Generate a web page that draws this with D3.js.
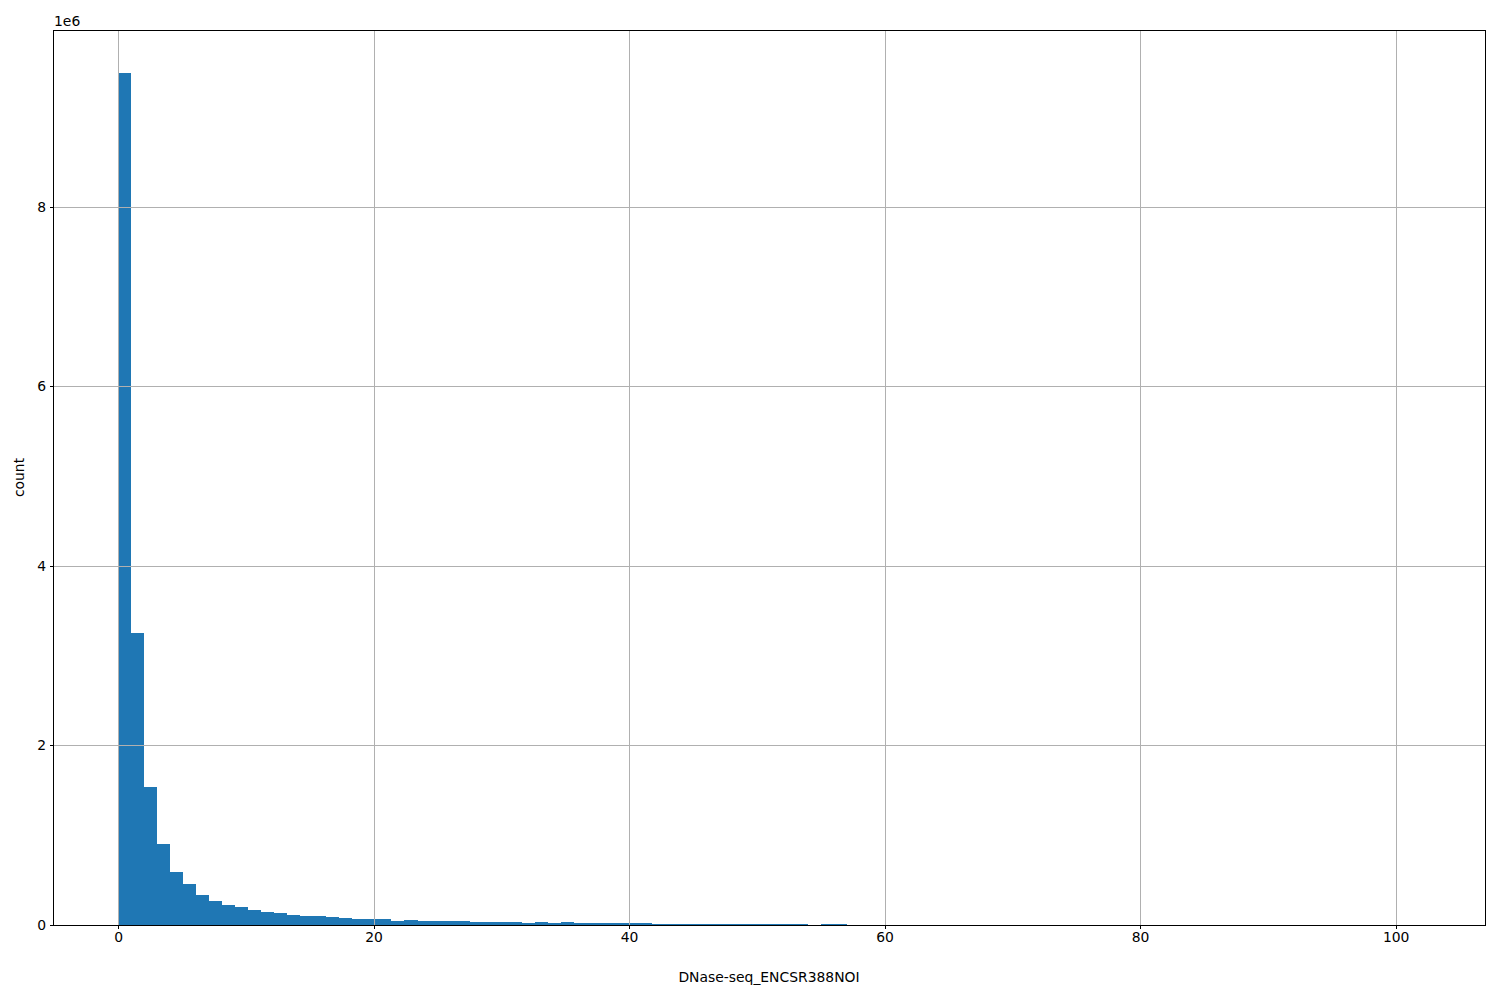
<!DOCTYPE html>
<html>
<head>
<meta charset="utf-8">
<script src="https://cdn.jsdelivr.net/npm/d3@7"></script>
<style>
  html, body { margin: 0; padding: 0; background: #fff; }
  svg { display: block; }
  text { font-family: "DejaVu Sans", sans-serif; }
</style>
</head>
<body>
<svg id="chart" width="1500" height="1000"></svg>
<script>
// Histogram: 100 equal bins over [binStart, binEnd]
const binStart = 0;
const binEnd = 101.9;
// counts per bin
const counts = [
  9497000, 3250000, 1540000, 904000, 588000, 454000, 331000, 264000, 220000, 197000,
  164000, 142000, 130000, 108000, 97000, 97000, 86000, 75000, 64000, 64000,
  64000, 42000, 53000, 45000, 45000, 45000, 45000, 34000, 34000, 34000,
  34000, 23000, 34000, 23000, 34000, 23000, 23000, 23000, 23000, 23000,
  22000, 11000, 11000, 11000, 11000, 11000, 11000, 11000, 11000, 11000,
  11000, 11000, 11000, 3000, 11000, 11000, 2000, 1500, 1200, 1000,
  900, 800, 700, 600, 500, 500, 400, 400, 300, 300,
  300, 250, 200, 200, 200, 150, 150, 150, 100, 100,
  100, 100, 80, 80, 60, 60, 50, 50, 40, 40,
  30, 30, 20, 20, 20, 10, 10, 10, 10, 10
];
const xTicks = [0, 20, 40, 60, 80, 100];
const yTicks = [0, 2000000, 4000000, 6000000, 8000000];
const yTickLabels = ["0", "2", "4", "6", "8"];
const xLabel = "DNase-seq_ENCSR388NOI";
const yLabel = "count";
const yOffsetLabel = "1e6";

const svg = d3.select("#chart");
const L = 53, R = 1485, T = 30, B = 925;
const span = binEnd - binStart;
const x = d3.scaleLinear()
  .domain([binStart - 0.05 * span, binEnd + 0.05 * span])
  .range([L, R]);
const yMax = d3.max(counts) * 1.05;
const y = d3.scaleLinear().domain([0, yMax]).range([B, T]);
const snap = v => Math.round(v) + 0.5;

const binW = span / counts.length;
const bins = counts.map((c, i) => ({ x0: binStart + i * binW, x1: binStart + (i + 1) * binW, c }));

// bars
svg.append("g").selectAll("rect").data(bins).join("rect")
  .attr("x", d => x(d.x0))
  .attr("width", d => x(d.x1) - x(d.x0))
  .attr("y", d => y(d.c))
  .attr("height", d => B - y(d.c))
  .attr("fill", "#1f77b4")
  .attr("shape-rendering", "crispEdges");

// grid (drawn above bars)
const grid = svg.append("g").attr("shape-rendering", "crispEdges");
grid.selectAll("line.gx").data(xTicks).join("line")
  .attr("x1", d => snap(x(d))).attr("x2", d => snap(x(d)))
  .attr("y1", T).attr("y2", B)
  .attr("stroke", "#b0b0b0").attr("stroke-width", 1);
grid.selectAll("line.gy").data(yTicks).join("line")
  .attr("x1", L).attr("x2", R)
  .attr("y1", d => snap(y(d))).attr("y2", d => snap(y(d)))
  .attr("stroke", "#b0b0b0").attr("stroke-width", 1);

// axes
const xAxis = d3.axisBottom(x).tickValues(xTicks).tickSize(3.5).tickPadding(3.5).tickFormat(d3.format("d"));
const gx = svg.append("g").attr("transform", `translate(0,${B})`).call(xAxis);
gx.select(".domain").remove();
gx.selectAll("line").attr("stroke", "#000").attr("stroke-width", 1).attr("shape-rendering", "crispEdges");
gx.selectAll("text").attr("font-size", "13.9px").attr("fill", "#000")
  .attr("font-family", "DejaVu Sans, sans-serif");

const yAxis = d3.axisLeft(y).tickValues(yTicks).tickSize(3.5).tickPadding(3.5)
  .tickFormat((d, i) => yTickLabels[i]);
const gy = svg.append("g").attr("transform", `translate(${L},0)`).call(yAxis);
gy.select(".domain").remove();
gy.selectAll("line").attr("stroke", "#000").attr("stroke-width", 1).attr("shape-rendering", "crispEdges");
gy.selectAll("text").attr("font-size", "13.9px").attr("fill", "#000")
  .attr("font-family", "DejaVu Sans, sans-serif");

// frame
svg.append("rect").attr("x", L + 0.5).attr("y", T + 0.5).attr("width", R - L).attr("height", B - T)
  .attr("fill", "none").attr("stroke", "#000").attr("stroke-width", 1)
  .attr("shape-rendering", "crispEdges");

// labels
svg.append("text").attr("x", (L + R) / 2).attr("y", 982).attr("text-anchor", "middle")
  .attr("font-size", "13.9px").text(xLabel);
svg.append("text").attr("transform", `translate(24,${(T + B) / 2}) rotate(-90)`)
  .attr("text-anchor", "middle").attr("font-size", "13.9px").text(yLabel);
svg.append("text").attr("x", 54).attr("y", 26).attr("font-size", "13.9px").text(yOffsetLabel);
</script>
</body>
</html>
